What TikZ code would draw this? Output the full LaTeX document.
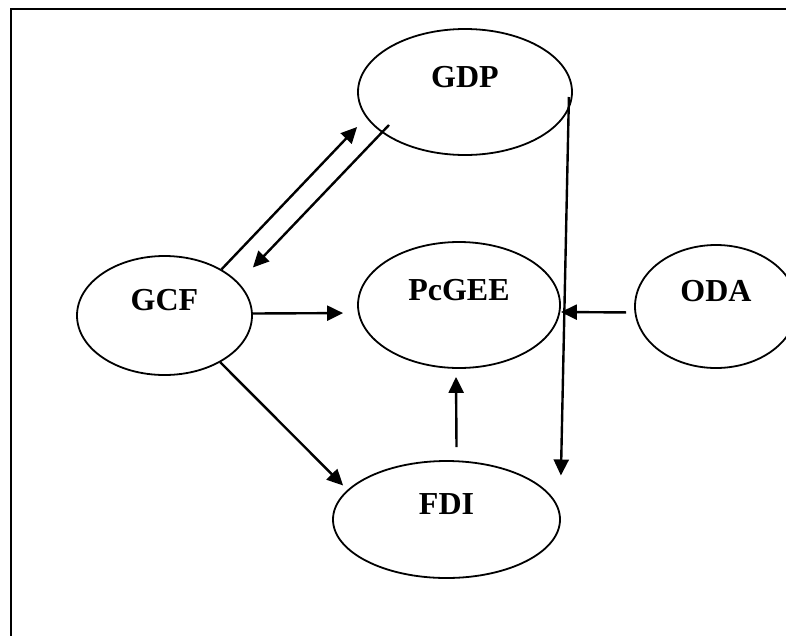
\documentclass[tikz,border=0pt]{standalone}
\usepackage{fontspec}
\setmainfont{Liberation Serif}
\usetikzlibrary{shapes.geometric, arrows.meta}

\begin{document}
\begin{tikzpicture}[
            x=1pt, y=-1pt, % one unit per pixel, y pointing down
            var/.style={ellipse, draw, line width=1.8pt, inner sep=0pt, font=\fontsize{32}{36}\selectfont\bfseries, text height=21pt, text depth=31pt}, % ellipse for a variable, text sits high
            link/.style={line width=2.4pt, -{Triangle[length=16pt, width=15pt]}} % arrow between variables
            ]
        \useasboundingbox (0,0) rectangle (786,635);

                % Frame, cut off at the right and at the bottom
                \draw[line width=2.4pt] (11,640) |- (790,9);

                % Variables
                \node[var, minimum width=214pt, minimum height=126pt] (gdp) at (465,92) {GDP};
                \node[var, minimum width=175pt, minimum height=119pt] (gcf) at (164.5,315.5) {GCF};
                \node[var, minimum width=202pt, minimum height=126pt] (pcgee) at (459,305) {PcGEE};
                \node[var, minimum width=162pt, minimum height=123pt] (oda) at (716,306.5) {ODA};
                \node[var, minimum width=227pt, minimum height=117pt] (fdi) at (446.5,519.5) {FDI};

                % Links
                \draw[link] (gcf.39) -- ([yshift=-35pt]gdp.west);
                \draw[link] ([shift={(-76pt,-33pt)}]gdp.center) -- ([yshift=48pt]gcf.east);
                \draw[link, shorten >=14pt] ([yshift=2pt]gcf.east) -- ([yshift=-8pt]pcgee.west);
                \draw[link] (gcf.-40) -- ([shift={(11pt,34pt)}]fdi.west);
                \draw[link, shorten <=8pt] ([yshift=-6pt]oda.west) -- ([yshift=-7pt]pcgee.east);
                \draw[link] ([shift={(10pt,13pt)}]fdi.north) -- ([shift={(-3pt,-8pt)}]pcgee.south);
                \draw[link] ([shift={(-4pt,-5pt)}]gdp.east) -- ([yshift=44pt]fdi.east);

            \end{tikzpicture}
\end{document}
